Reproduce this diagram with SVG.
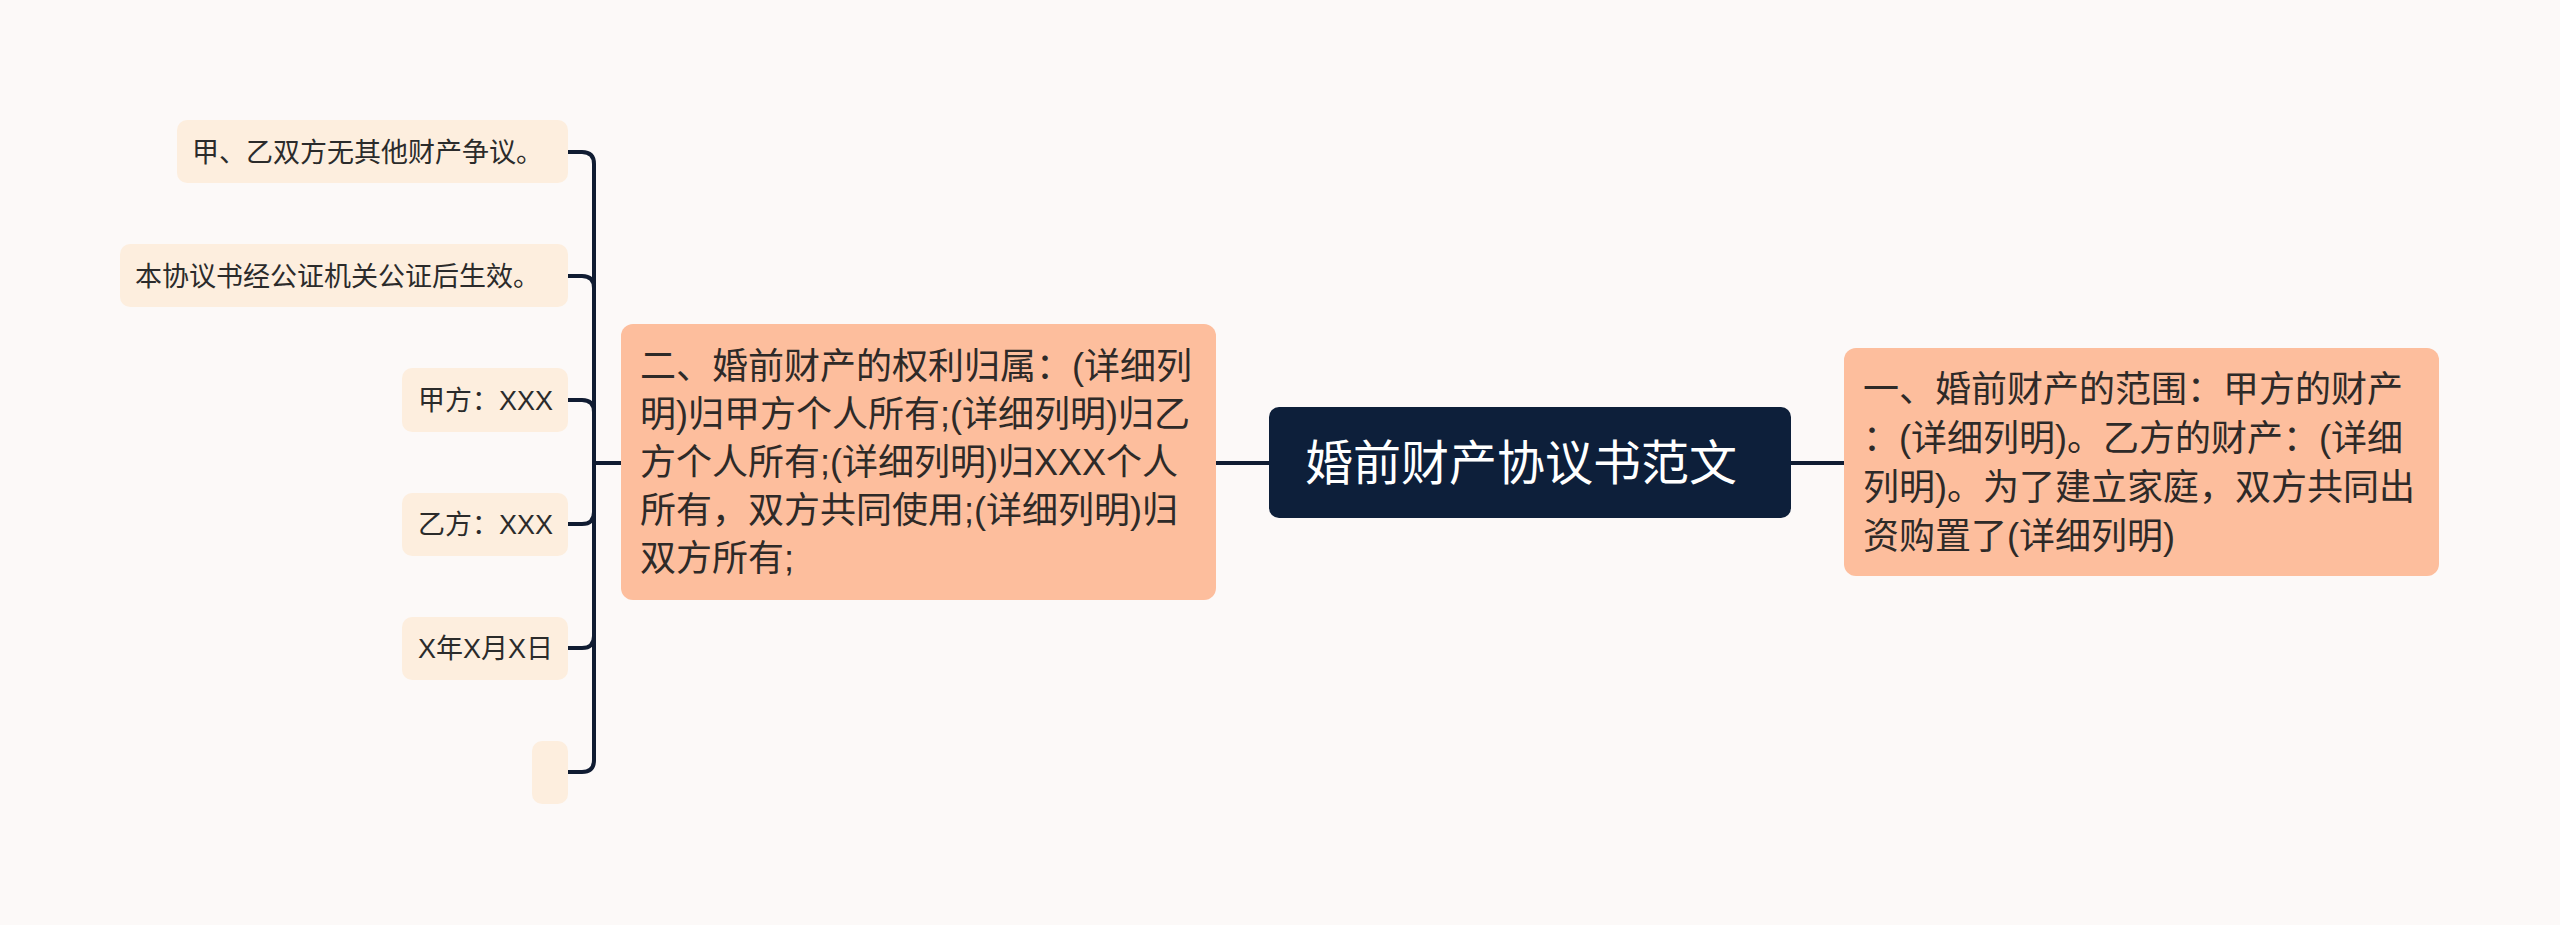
<svg xmlns="http://www.w3.org/2000/svg" width="2560" height="925" viewBox="0 0 2560 925">
<style>
.bg{fill:#FCF9F8}
.leaf rect{fill:#FDEEDE}
.main rect{fill:#FDBE9D}
.center rect{fill:#0D1F3A}
text{font-family:"Liberation Sans","Noto Sans CJK SC",sans-serif}
.lt{font-size:27px;fill:#2B2B2B}
.mt{font-size:36px;fill:#2E2A28}
.ct{font-size:48px;fill:#FFFFFF}
.conn path{fill:none;stroke:#101C32;stroke-width:4}
</style>
<rect class="bg" x="0" y="0" width="2560" height="925"/>
<g class="conn" id="connectors">
<path d="M1216 463 H1269"/>
<path d="M1791 463 H1844"/>
<path d="M621 463 H594"/>
<path d="M594 463 V164 Q594 152 582 152 H568"/>
<path d="M594 463 V288 Q594 276 582 276 H568"/>
<path d="M594 463 V412 Q594 400 582 400 H568"/>
<path d="M594 463 V512 Q594 524 582 524 H568"/>
<path d="M594 463 V636 Q594 648 582 648 H568"/>
<path d="M594 463 V760 Q594 772 582 772 H568"/>
</g>
<g class="center" id="node-root">
<rect x="1269" y="407" width="522" height="111" rx="10"/>
<text class="ct" x="1305" y="480">婚前财产协议书范文</text>
</g>
<g class="main" id="node-1">
<rect x="1844" y="348" width="595" height="228" rx="12"/>
<text class="mt" x="1863" y="402">一、婚前财产的范围：甲方的财产</text>
<text class="mt" x="1863" y="451">：(详细列明)。乙方的财产：(详细</text>
<text class="mt" x="1863" y="500">列明)。为了建立家庭，双方共同出</text>
<text class="mt" x="1863" y="549">资购置了(详细列明)</text>
</g>
<g class="main" id="node-2">
<rect x="621" y="324" width="595" height="276" rx="12"/>
<text class="mt" x="640" y="379">二、婚前财产的权利归属：(详细列</text>
<text class="mt" x="640" y="427">明)归甲方个人所有;(详细列明)归乙</text>
<text class="mt" x="640" y="475">方个人所有;(详细列明)归XXX个人</text>
<text class="mt" x="640" y="523">所有，双方共同使用;(详细列明)归</text>
<text class="mt" x="640" y="571">双方所有;</text>
</g>
<g class="leaf" id="leaf-1">
<rect x="177" y="120" width="391" height="63" rx="10"/>
<text class="lt" x="192" y="162">甲、乙双方无其他财产争议。</text>
</g>
<g class="leaf" id="leaf-2">
<rect x="120" y="244" width="448" height="63" rx="10"/>
<text class="lt" x="135" y="286">本协议书经公证机关公证后生效。</text>
</g>
<g class="leaf" id="leaf-3">
<rect x="402" y="368" width="166" height="64" rx="10"/>
<text class="lt" x="418" y="410">甲方：XXX</text>
</g>
<g class="leaf" id="leaf-4">
<rect x="402" y="493" width="166" height="63" rx="10"/>
<text class="lt" x="418" y="534">乙方：XXX</text>
</g>
<g class="leaf" id="leaf-5">
<rect x="402" y="617" width="166" height="63" rx="10"/>
<text class="lt" x="418" y="658">X年X月X日</text>
</g>
<g class="leaf" id="leaf-6">
<rect x="532" y="741" width="36" height="63" rx="10"/>
</g>
</svg>
